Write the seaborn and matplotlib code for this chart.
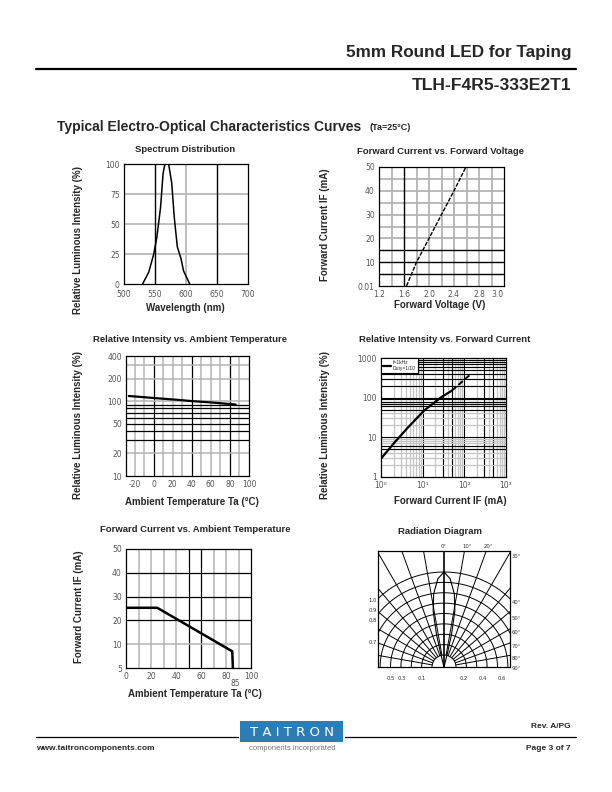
import numpy as np
import matplotlib
matplotlib.use("Agg")
import matplotlib.pyplot as plt
from matplotlib.patches import Rectangle
import seaborn as sns

# spectrum distribution
wavelength_nm = [530, 540, 548, 553, 559, 563, 566, 572, 577, 581, 586, 592, 596, 606]
spectrum_pct = [0, 10, 25, 39, 64, 92, 100, 100, 84, 56, 31, 21, 11, 0]

# forward current vs forward voltage
vf_volt = [1.64, 1.8, 2.0, 2.2, 2.4, 2.59]
if_vf_ma = [0.01, 10, 20, 30, 40, 50]

# relative intensity vs ambient temperature
ta_c = [-26, 0, 25, 40, 60, 86]
rel_ta_pct = [117, 110, 104, 100, 96, 90]

# relative intensity vs forward current (solid part, then dashed part)
if_solid_ma = [1, 2.15, 4.5, 11, 28, 50]
rel_if_solid = [2.9, 7.6, 18, 48, 103, 150]
if_dash_ma = [50, 80, 145]
rel_if_dash = [150, 230, 400]

# derating curve
ta_derate_c = [0, 25, 85, 85.5]
if_derate_ma = [25.3, 25.3, 7.0, 0]

# radiation pattern
rad_angle_deg = [-15, -14, -13, -11, -8, -4, 0, 4, 8, 11, 13, 14, 15]
rad_rel = [0, 0.15, 0.35, 0.6, 0.78, 0.93, 1.0, 0.93, 0.78, 0.6, 0.35, 0.15, 0]

sns.set_style("white")
plt.rcParams['font.family'] = ['Liberation Sans', 'DejaVu Sans']

W, H = 612, 792
fig = plt.figure(figsize=(6.12, 7.92), dpi=100)


def box(x0, y0, x1, y1):
    return [x0 / W, 1 - y1 / H, (x1 - x0) / W, (y1 - y0) / H]


def ftext(x, y, s, **kw):
    kw.setdefault('va', 'center')
    fig.text(x / W, 1 - y / H, s, **kw)


TICK = dict(family='DejaVu Sans', fontsize=5.5, color='#555555')
GRAY = '#b4b4b4'


def style(ax):
    for s in ax.spines.values():
        s.set_visible(True)
        s.set_linewidth(0.9)
        s.set_color('black')
    ax.tick_params(length=0, pad=3)
    for lab in ax.get_xticklabels() + ax.get_yticklabels():
        lab.set_fontfamily('DejaVu Sans')
        lab.set_fontsize(5.5)
        lab.set_color('#555555')


def vlines(ax, xs, color, lw):
    for x in xs:
        ax.axvline(x, color=color, lw=lw, zorder=1)


def hlines(ax, ys, color, lw):
    for y in ys:
        ax.axhline(y, color=color, lw=lw, zorder=1)


# ---------------- header ----------------
ftext(571, 53, "5mm Round LED for Taping", ha='right', fontsize=12.3, fontweight='bold')
fig.add_artist(plt.Line2D([36 / W, 576 / W], [1 - 69 / H] * 2, color='black', lw=1.6))
ftext(571, 86, "TLH-F4R5-333E2T1", ha='right', fontsize=12.6, fontweight='bold')
ftext(57, 127, "Typical Electro-Optical Characteristics Curves", ha='left', fontsize=10, fontweight='bold')
ftext(369, 128, "(Ta=25°C)", ha='left', fontsize=6.5, fontweight='bold')

TITLE = dict(ha='center', fontsize=6.8, fontweight='bold')
LAB = dict(ha='center', fontsize=7, fontweight='bold')

# ---------------- spectrum ----------------
ax1 = fig.add_axes(box(124, 164, 248, 284))
vlines(ax1, [600], GRAY, 1.2)
hlines(ax1, [25, 50, 75], GRAY, 1.2)
vlines(ax1, [550, 650], 'black', 1.0)
sns.lineplot(x=wavelength_nm, y=spectrum_pct, ax=ax1, color='black', lw=1.1, zorder=3)
ax1.set_xlim(500, 700)
ax1.set_ylim(0, 100)
ax1.set_xticks([500, 550, 600, 650, 700])
ax1.set_yticks([0, 25, 50, 75, 100])
style(ax1)
ax1.tick_params(axis='x', pad=4)
ftext(185, 149, "Spectrum Distribution", **TITLE)
ftext(185, 308, "Wavelength (nm)", **LAB)
ftext(78, 240, "Relative Luminous Intensity (%)", rotation=90, **LAB)

# ---------------- IF vs VF ----------------
ax2 = fig.add_axes(box(379, 167, 504, 286))
vlines(ax2, [1.4, 1.8, 2.0, 2.2, 2.4, 2.6, 2.8, 3.0], GRAY, 1.3)
hlines(ax2, [20, 25, 30, 35, 40, 45], GRAY, 1.3)
vlines(ax2, [1.6], 'black', 1.0)
hlines(ax2, [5, 10, 15], 'black', 1.0)
sns.lineplot(x=vf_volt, y=if_vf_ma, ax=ax2, color='black', lw=1.0, zorder=3)
ax2.lines[-1].set_dashes([3, 1])
ax2.set_xlim(1.2, 3.2)
ax2.set_ylim(0, 50)
ax2.set_xticks([1.2, 1.6, 2.0, 2.4, 2.8, 3.1], ['1.2', '1.6', '2.0', '2.4', '2.8', '3.0'])
ax2.set_yticks([0, 10, 20, 30, 40, 50], ['0.01', '10', '20', '30', '40', '50'])
style(ax2)
ftext(440, 151, "Forward Current vs. Forward Voltage", **TITLE)
ftext(440, 305, "Forward Voltage (V)", **LAB)
ftext(325, 225, "Forward Current IF (mA)", rotation=90, **LAB)

# ---------------- rel intensity vs Ta ----------------
ax3 = fig.add_axes(box(126, 356, 249, 476))
ax3.set_yscale('log')
vlines(ax3, [-20, -10, 10, 20, 30, 50, 60, 70, 90], GRAY, 1.1)
vlines(ax3, [0, 40, 80], 'black', 0.9)
hlines(ax3, [20, 100, 200, 300], GRAY, 1.1)
hlines(ax3, [30, 40, 50, 60, 70, 80, 90], 'black', 0.9)
sns.lineplot(x=ta_c, y=rel_ta_pct, ax=ax3, color='black', lw=1.6, zorder=3)
ax3.set_xlim(-29, 100)
ax3.set_ylim(10, 400)
ax3.set_xticks([-20, 0, 20, 40, 60, 80, 100], ['-20', '0', '20', '40', '60', '80', '100'])
ax3.set_yticks([10, 20, 50, 100, 200, 400], ['10', '20', '50', '100', '200', '400'])
ax3.minorticks_off()
style(ax3)
ftext(190, 340, "Relative Intensity vs. Ambient Temperature", **TITLE)
ftext(192, 502, "Ambient Temperature Ta (°C)", **LAB)
ftext(78, 425, "Relative Luminous Intensity (%)", rotation=90, **LAB)

# ---------------- rel intensity vs IF ----------------
ax4 = fig.add_axes(box(381, 358, 506, 477))
ax4.set_xscale('log')
ax4.set_yscale('log')
minors = [m * d for d in (1, 10, 100) for m in range(2, 10)]
vlines(ax4, minors, '#c4c4c4', 0.9)
vlines(ax4, [10, 30, 50, 100, 300, 500], 'black', 0.8)
hlines(ax4, minors, '#c4c4c4', 0.9)
hlines(ax4, [5, 6, 10, 50, 60, 70, 80, 90, 100, 200, 300, 400, 500, 600, 700, 800, 900], 'black', 0.8)
sns.lineplot(x=if_solid_ma, y=rel_if_solid, ax=ax4, color='black', lw=1.6, zorder=3,
             label="f=1kHz\nDuty=1/10")
sns.lineplot(x=if_dash_ma, y=rel_if_dash, ax=ax4, color='black', lw=1.4, zorder=3)
ax4.lines[-1].set_dashes([3, 1.5])
ax4.set_xlim(1, 1000)
ax4.set_ylim(1, 1000)
ax4.set_xticks([1, 10, 100, 1000], ['10⁰', '10¹', '10²', '10³'])
ax4.set_yticks([1, 10, 100, 1000], ['1', '10', '100', '1000'])
ax4.minorticks_off()
leg = ax4.legend(loc='upper left', fontsize=3.6, frameon=True, fancybox=False,
                 borderaxespad=0, handlelength=1.5, handletextpad=0.4, borderpad=0.4)
leg.get_frame().set_edgecolor('black')
leg.get_frame().set_linewidth(0.8)
leg.get_frame().set_alpha(1)
style(ax4)
ftext(445, 340, "Relative Intensity vs. Forward Current", **TITLE)
ftext(450, 501, "Forward Current IF (mA)", **LAB)
ftext(325, 425, "Relative Luminous Intensity (%)", rotation=90, **LAB)

# ---------------- IF vs Ta derating ----------------
ax5 = fig.add_axes(box(126, 549, 251, 668))
vlines(ax5, [10, 20, 30, 40, 70, 80, 90], GRAY, 1.1)
vlines(ax5, [50, 60], 'black', 0.9)
hlines(ax5, [10], GRAY, 1.1)
hlines(ax5, [20, 30, 40], 'black', 0.9)
sns.lineplot(x=ta_derate_c, y=if_derate_ma, ax=ax5, color='black', lw=1.8, zorder=3)
ax5.set_xlim(0, 100)
ax5.set_ylim(0, 50)
ax5.set_xticks([0, 20, 40, 60, 80, 100])
ax5.set_yticks([0, 10, 20, 30, 40, 50], ['5', '10', '20', '30', '40', '50'])
style(ax5)
ax5.text(87.5, -4.5, "85", ha='center', va='top', **TICK)
ftext(195, 530, "Forward Current vs. Ambient Temperature", **TITLE)
ftext(195, 694, "Ambient Temperature Ta (°C)", **LAB)
ftext(79, 607, "Forward Current IF (mA)", rotation=90, **LAB)

# ---------------- radiation diagram ----------------
ax6 = fig.add_axes(box(378, 551, 510, 667))
ax6.set_xlim(-66, 66)
ax6.set_ylim(0, 116)
t = np.radians(np.linspace(-90, 90, 181))
for r in np.linspace(12, 95, 9):
    ax6.plot(r * np.sin(t), r * np.cos(t), color='black', lw=0.7, zorder=2)
for a in range(-90, 91, 10):
    if a == 0:
        continue
    ar = np.radians(a)
    ax6.plot([12 * np.sin(ar), 200 * np.sin(ar)], [12 * np.cos(ar), 200 * np.cos(ar)],
             color='black', lw=0.7, zorder=2)
ax6.axvline(0, color='black', lw=1.2, zorder=3)
ang = np.radians(rad_angle_deg)
rr = np.array(rad_rel) * 95
sns.lineplot(x=rr * np.sin(ang), y=rr * np.cos(ang), ax=ax6, sort=False,
             estimator=None, color='black', lw=0.8, zorder=3)
ax6.set_xticks([])
ax6.set_yticks([])
for s in ax6.spines.values():
    s.set_visible(True)
    s.set_linewidth(0.9)
    s.set_color('black')
RT = dict(family='DejaVu Sans', fontsize=3.8, color='#333333')
for lab, x in [("0°", 0), ("10°", 23), ("20°", 44)]:
    ax6.text(x, 120, lab, ha='center', va='center', **RT)
for lab, y in [("30°", 110), ("40°", 65), ("50°", 49), ("60°", 34), ("70°", 20), ("80°", 9), ("90°", -1)]:
    ax6.text(68, y, lab, ha='left', va='center', **RT)
for lab, y in [("1.0", 67), ("0.9", 57), ("0.8", 47), ("0.7", 25)]:
    ax6.text(-71, y, lab, ha='center', va='center', **RT)
for lab, x in [("0.5", -53), ("0.3", -42), ("0.1", -22), ("0.2", 20), ("0.4", 39), ("0.6", 58)]:
    ax6.text(x, -12, lab, ha='center', va='center', **RT)
ftext(440, 531, "Radiation Diagram", **TITLE)

# ---------------- footer ----------------
fig.add_artist(plt.Line2D([36 / W, 238 / W], [1 - 737 / H] * 2, color='black', lw=0.9))
fig.add_artist(plt.Line2D([345 / W, 576 / W], [1 - 737 / H] * 2, color='black', lw=0.9))
fig.add_artist(Rectangle((240 / W, 1 - 742 / H), 103 / W, 21 / H, transform=fig.transFigure,
                         facecolor='#2a7db5', edgecolor='none'))
ftext(292, 732, "T A I T R O N", ha='center', fontsize=9.5, color='white', family='DejaVu Sans')
ftext(292, 748, "components incorporated", ha='center', fontsize=5.5, color='#777777')
ftext(571, 727, "Rev. A/PG", ha='right', fontsize=6, fontweight='bold')
ftext(36, 749, "www.taitroncomponents.com", ha='left', fontsize=6, fontweight='bold')
ftext(571, 749, "Page 3 of 7", ha='right', fontsize=6, fontweight='bold')

fig.savefig("out.png", dpi=100)
